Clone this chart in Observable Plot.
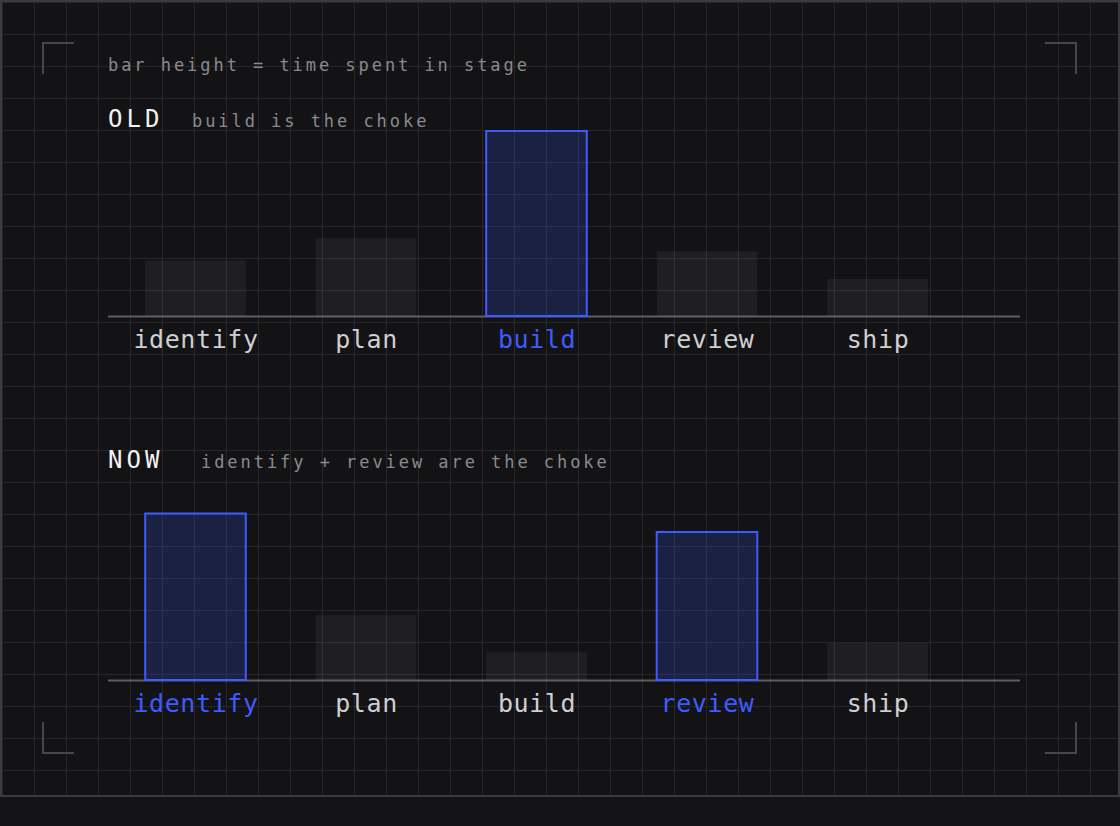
<!DOCTYPE html>
<html>
<head>
<meta charset="utf-8">
<script src="https://cdn.jsdelivr.net/npm/d3@7"></script>
<script src="https://cdn.jsdelivr.net/npm/@observablehq/plot@0.6"></script>
<style>
  html, body { margin: 0; padding: 0; background: #141416; width: 1120px; height: 826px; overflow: hidden; }
  #frame {
    position: absolute; left: 0; top: 0; width: 1120px; height: 797px; box-sizing: border-box;
    border: 2px solid #3b3b3d;
    background-color: #131315;
    background-image:
      linear-gradient(to right, #27272a 1px, transparent 1px),
      linear-gradient(to bottom, #27272a 1px, transparent 1px);
    background-size: 32px 32px;
    background-position: 0 0;
  }
  .t { position: absolute; white-space: pre; font-family: "DejaVu Sans Mono", monospace; line-height: 1; }
  .sub { font-size: 17px; letter-spacing: 2.95px; color: #8a8a8c; }
  .big { font-size: 24px; letter-spacing: 4px; color: #f2f2f2; }
  .corner { position: absolute; width: 32px; height: 32px; box-sizing: border-box; border-color: #47474a; border-style: solid; border-width: 0; }
  .plot { position: absolute; left: 0; }
</style>
</head>
<body>
<div id="frame"></div>
<div class="corner" style="left:42px;top:42px;border-left-width:2px;border-top-width:2px;"></div>
<div class="corner" style="left:1045px;top:42px;border-right-width:2px;border-top-width:2px;"></div>
<div class="corner" style="left:42px;top:722px;border-left-width:2px;border-bottom-width:2px;"></div>
<div class="corner" style="left:1045px;top:722px;border-right-width:2px;border-bottom-width:2px;"></div>

<div class="t sub" style="left:108px;top:56.5px;">bar height = time spent in stage</div>
<div class="t big" style="left:108px;top:107px;">OLD</div>
<div class="t sub" style="left:192px;top:113px;">build is the choke</div>
<div class="t big" style="left:108px;top:448px;">NOW</div>
<div class="t sub" style="left:201px;top:454px;">identify + review are the choke</div>

<div id="old" class="plot" style="top:131px;"></div>
<div id="now" class="plot" style="top:495px;"></div>

<script>
const stages = ["identify", "plan", "build", "review", "ship"];
const oldValues = [30, 42, 100, 35, 20];
const nowValues = [90, 35, 15, 80, 20];
const oldChoke = ["build"];
const nowChoke = ["identify", "review"];

const BLUE = "#3d5bff";
const LABEL = "#cfcfd1";

function chart(values, choke) {
  const data = stages.map((s, i) => ({stage: s, value: values[i]}));
  return Plot.plot({
    width: 1120,
    height: 235,
    marginLeft: 108,
    marginRight: 100,
    marginTop: 0,
    marginBottom: 50,
    style: {background: "transparent", color: LABEL, fontFamily: "DejaVu Sans Mono, monospace", fontSize: "25px", letterSpacing: "0.6px", overflow: "visible"},
    x: {domain: stages, range: [110.25, 962.75], round: false, paddingInner: 0.41, paddingOuter: 0.205, align: 0.5, label: null, axis: null},
    y: {domain: [0, 100], axis: null},
    marks: [
      Plot.ruleY([0], {stroke: "#5f5f62", strokeWidth: 2}),
      Plot.barY(data, {
        x: "stage", y: "value",
        fill: d => choke.includes(d.stage) ? "rgba(61,91,255,0.2)" : "rgba(255,255,255,0.055)",
        stroke: d => choke.includes(d.stage) ? BLUE : "none",
        strokeWidth: 2
      }),
      Plot.axisX({
        tickSize: 0,
        tickPadding: 14,
        label: null,
        fill: d => choke.includes(d) ? BLUE : LABEL
      })
    ]
  });
}

document.getElementById("old").append(chart(oldValues, oldChoke));
document.getElementById("now").append(chart(nowValues, nowChoke));
</script>
</body>
</html>
